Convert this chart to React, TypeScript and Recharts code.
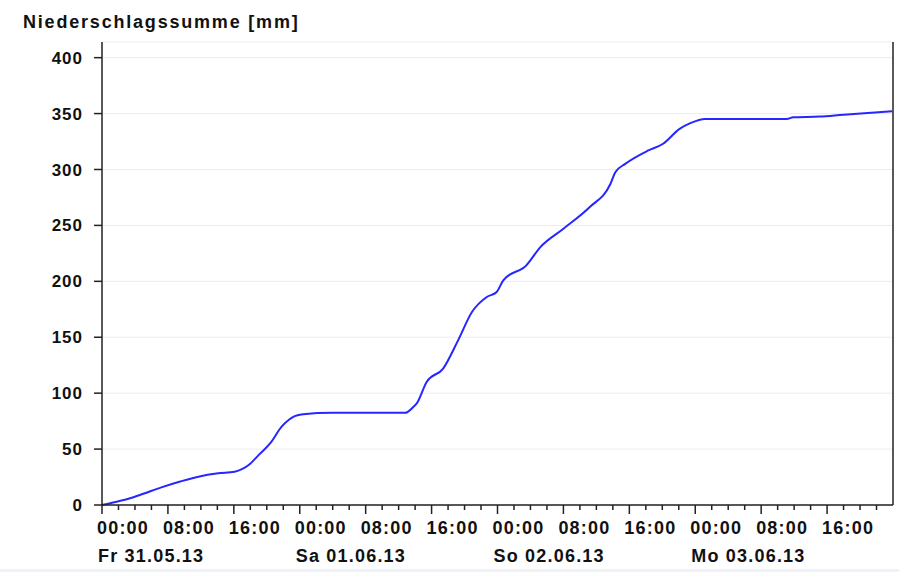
import { LineChart, Line, XAxis, YAxis, CartesianGrid } from 'recharts';

// hours since Fr 31.05.13 00:00
const hours = [
  0, 1.5, 3.4, 5, 7.2, 9.5, 11.7, 14.1, 16.1, 17.8, 19.0, 20.4, 21.8, 23.4, 24.4, 27.9,
  36.8, 37.8, 38.2, 39.4, 41.4, 43.2, 44.9, 46.7, 47.9, 48.7, 51.5, 53.2, 56.0, 59.2,
  61.7, 62.3, 63.5, 66.3, 68.1, 70.1, 71.4, 73.2, 83.1, 83.9, 87.1, 90.0, 95.9,
];
// cumulative precipitation [mm]
const sums = [
  0, 2.5, 6, 10, 15.8, 21, 25.3, 28.3, 29.8, 35.7, 44.6, 55, 70, 79.5, 81.2, 82.4,
  82.4, 87.8, 90.8, 110, 122, 147, 172.6, 186, 190.5, 200.9, 214.3, 230.6, 247, 266.4,
  287, 297.6, 305, 317, 323, 336.3, 341.4, 345.2, 345.2, 346.7, 347.3, 349, 352,
];

const days = ['Fr 31.05.13', 'Sa 01.06.13', 'So 02.06.13', 'Mo 03.06.13'];
const timeLabels = ['00:00', '08:00', '16:00'];
const yTicks = [0, 50, 100, 150, 200, 250, 300, 350, 400];

const data = hours.map((h, i) => ({ h, v: sums[i] }));

// a tick every 2 hours, labels every 8 hours
const xTicks: number[] = [];
days.forEach((_, d) => {
  for (let k = 0; k < 12; k++) xTicks.push(d * 24 + k * 2);
});

const labelStyle = { fontSize: 18, fontWeight: 700, letterSpacing: '1.2px' };

function TimeTick(props: any) {
  const { x, y, payload } = props;
  const h = payload.value as number;
  const major = h % 8 === 0;
  const day = Math.floor(h / 24);
  return (
    <g>
      <line x1={x} y1={y} x2={x} y2={y + (major ? 9 : 5)} stroke="#222" strokeWidth={1.5} />
      {major && (
        <text x={x - 5} y={y + 29} textAnchor="start" fill="#111" style={labelStyle}>
          {timeLabels[(h % 24) / 8]}
        </text>
      )}
      {h % 24 === 0 && (
        <text x={x - 4} y={y + 57} textAnchor="start" fill="#111" style={labelStyle}>
          {days[day]}
        </text>
      )}
    </g>
  );
}

export default function App() {
  return (
    <div
      style={{
        position: 'absolute', left: 0, top: 0, width: 899, height: 572,
        background: '#fff', fontFamily: '"Liberation Sans", Arial, sans-serif',
      }}
    >
      <div style={{ position: 'absolute', left: 0, bottom: 0, width: 899, height: 3, background: '#eef3fa' }} />
      <div
        style={{
          position: 'absolute', left: 23, top: 13, lineHeight: '18px',
          fontSize: 18, fontWeight: 700, letterSpacing: '1.8px', color: '#111',
        }}
      >
        Niederschlagssumme [mm]
      </div>
      <LineChart width={899} height={572} data={data} margin={{ top: 42, right: 5, left: 0, bottom: 7 }}>
        <CartesianGrid horizontal vertical={false} stroke="#ececec" yAxisId="left" />
        <XAxis
          dataKey="h"
          type="number"
          domain={[0, 96]}
          ticks={xTicks}
          interval={0}
          height={60}
          tickSize={0}
          tickMargin={0}
          tickLine={false}
          tick={<TimeTick />}
          axisLine={{ stroke: '#222', strokeWidth: 1.5 }}
        />
        <YAxis
          yAxisId="left"
          domain={[0, 414]}
          ticks={yTicks}
          interval={0}
          width={102}
          tickSize={8}
          tickMargin={11}
          tickLine={{ stroke: '#222', strokeWidth: 1.5 }}
          axisLine={{ stroke: '#222', strokeWidth: 1.5 }}
          tick={{ fill: '#111', fontSize: 17, fontWeight: 700, letterSpacing: '1px' }}
        />
        <YAxis
          yAxisId="right"
          orientation="right"
          domain={[0, 414]}
          width={1}
          tick={false}
          tickLine={false}
          axisLine={{ stroke: '#222', strokeWidth: 1.5 }}
        />
        <Line
          yAxisId="left"
          dataKey="v"
          type="monotone"
          stroke="#2626ff"
          strokeWidth={2}
          dot={false}
          isAnimationActive={false}
        />
      </LineChart>
    </div>
  );
}
